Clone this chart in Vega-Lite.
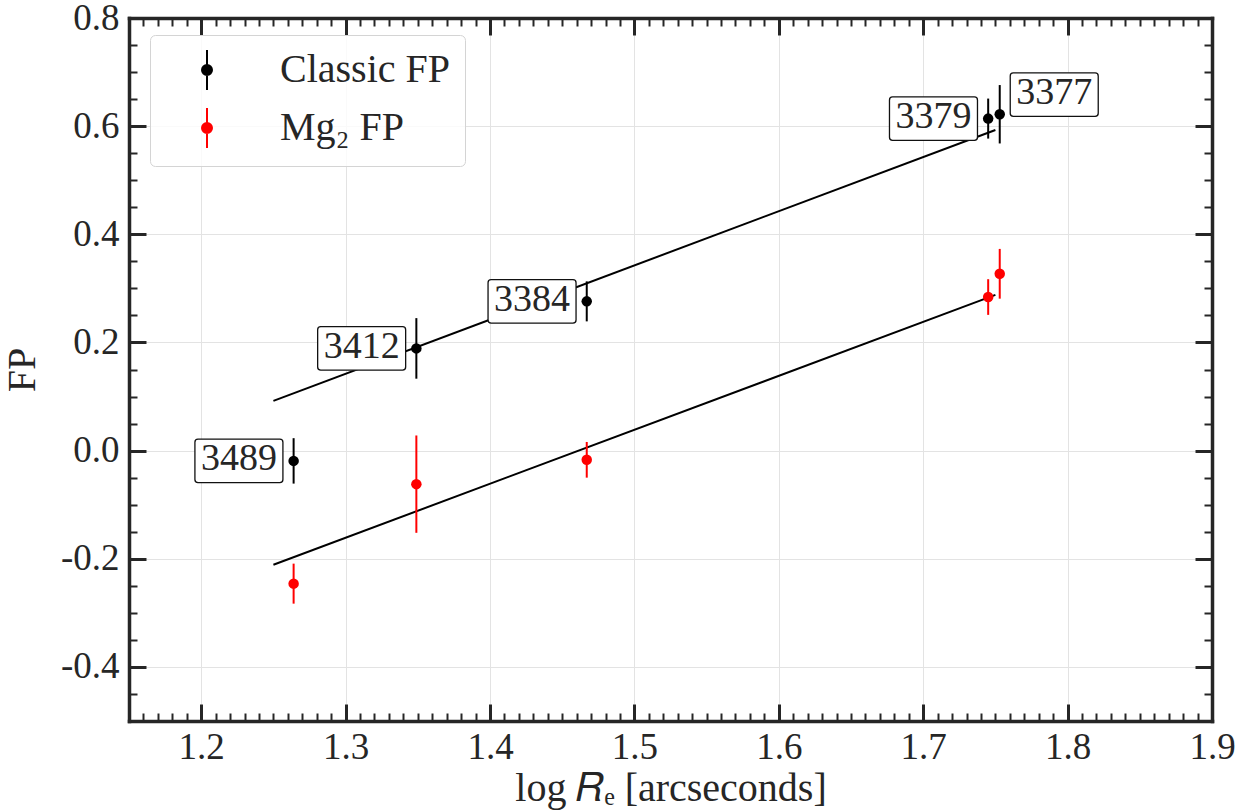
{
  "$schema": "https://vega.github.io/schema/vega-lite/v6.json",
  "autosize": {"type": "none"},
  "padding": {"left": 129, "top": 18, "right": 35, "bottom": 91},
  "width": 1083,
  "height": 703,
  "background": "white",
  "config": {
    "font": "Liberation Serif",
    "view": {"stroke": null},
    "axis": {"labelFont": "Liberation Serif", "titleFont": "Liberation Serif", "titleFontWeight": "normal", "labelColor": "#262626", "titleColor": "#262626", "tickColor": "#262626", "domainColor": "#262626", "domainWidth": 3.5, "domainCap": "square", "labelOverlap": false, "labelFlush": false}
  },
  "datasets": {
    "pts": [
      {"series": "Classic FP", "galaxy": "3489", "logRe": 1.264, "FP": -0.019, "err": 0.042},
      {"series": "Classic FP", "galaxy": "3412", "logRe": 1.349, "FP": 0.189, "err": 0.056},
      {"series": "Classic FP", "galaxy": "3384", "logRe": 1.467, "FP": 0.276, "err": 0.037},
      {"series": "Classic FP", "galaxy": "3379", "logRe": 1.745, "FP": 0.614, "err": 0.037},
      {"series": "Classic FP", "galaxy": "3377", "logRe": 1.753, "FP": 0.622, "err": 0.054},
      {"series": "Mg₂ FP", "galaxy": "3489", "logRe": 1.264, "FP": -0.246, "err": 0.037},
      {"series": "Mg₂ FP", "galaxy": "3412", "logRe": 1.349, "FP": -0.062, "err": 0.09},
      {"series": "Mg₂ FP", "galaxy": "3384", "logRe": 1.467, "FP": -0.017, "err": 0.033},
      {"series": "Mg₂ FP", "galaxy": "3379", "logRe": 1.745, "FP": 0.284, "err": 0.033},
      {"series": "Mg₂ FP", "galaxy": "3377", "logRe": 1.753, "FP": 0.327, "err": 0.046}
    ],
    "fits": [
      {"series": "Classic FP", "logRe": 1.25, "FP": 0.092},
      {"series": "Classic FP", "logRe": 1.75, "FP": 0.593},
      {"series": "Mg₂ FP", "logRe": 1.25, "FP": -0.211},
      {"series": "Mg₂ FP", "logRe": 1.75, "FP": 0.288}
    ]
  },
  "resolve": {"axis": {"x": "independent", "y": "independent"}},
  "layer": [
    {
      "data": {"name": "fits"},
      "mark": {"type": "line", "color": "black", "strokeWidth": 2},
      "encoding": {
        "x": {"field": "logRe", "type": "quantitative", "scale": {"domain": [1.15, 1.9], "nice": false, "zero": false},
          "axis": {"orient": "bottom", "values": [1.2, 1.3, 1.4, 1.5, 1.6, 1.7, 1.8, 1.9], "format": ".1f", "ticks": false, "domain": true, "labelFontSize": 37, "labelPadding": 8, "grid": true, "gridColor": "#e3e3e3", "gridWidth": 1, "title": "log 𝑅ₑ [arcseconds]", "titleFontSize": 40, "titlePadding": 3}},
        "y": {"field": "FP", "type": "quantitative", "scale": {"domain": [-0.5, 0.8], "nice": false, "zero": false},
          "axis": {"orient": "left", "values": [-0.4, -0.2, 0, 0.2, 0.4, 0.6, 0.8], "labelExpr": "datum.value < 0 ? '-' + format(-datum.value, '.1f') : format(datum.value, '.1f')", "ticks": false, "domain": true, "labelFontSize": 37, "labelPadding": 10, "grid": true, "gridColor": "#e3e3e3", "gridWidth": 1, "title": "FP", "titleFontSize": 40, "titlePadding": 18}},
        "detail": {"field": "series"}
      }
    },
    {
      "data": {"name": "pts"},
      "mark": {"type": "errorbar", "thickness": 2, "ticks": false},
      "encoding": {
        "x": {"field": "logRe", "type": "quantitative", "axis": null},
        "y": {"field": "FP", "type": "quantitative", "axis": null},
        "yError": {"field": "err"},
        "color": {"field": "series", "type": "nominal"}
      }
    },
    {
      "data": {"name": "pts"},
      "mark": {"type": "point", "filled": true, "size": 110, "opacity": 1},
      "encoding": {
        "x": {"field": "logRe", "type": "quantitative",
          "axis": {"orient": "bottom", "values": [1.2, 1.3, 1.4, 1.5, 1.6, 1.7, 1.8, 1.9], "labels": false, "domain": false, "grid": false, "ticks": true, "tickSize": -17, "tickWidth": 3, "title": null}},
        "y": {"field": "FP", "type": "quantitative",
          "axis": {"orient": "left", "values": [-0.4, -0.2, 0, 0.2, 0.4, 0.6, 0.8], "labels": false, "domain": false, "grid": false, "ticks": true, "tickSize": -17, "tickWidth": 3, "title": null}},
        "color": {"field": "series", "type": "nominal",
          "scale": {"domain": ["Classic FP", "Mg₂ FP"], "range": ["#000000", "#ff0000"]},
          "legend": {"orient": "none", "legendX": 21, "legendY": 17, "title": null,
            "symbolType": "M0,-1L0,1M0.25,0A0.25,0.25,0,1,1,-0.25,0A0.25,0.25,0,1,1,0.25,0Z",
            "symbolSize": 1600, "symbolStrokeWidth": 2, "symbolOffset": 22, "labelOffset": 52,
            "labelFont": "Liberation Serif", "labelFontSize": 40, "labelColor": "#262626", "labelLimit": 400,
            "padding": 14, "rowPadding": 10, "fillColor": "rgba(255,255,255,0.8)", "strokeColor": "#d4d4d4", "cornerRadius": 5,
            "encode": {"symbols": {"update": {"stroke": {"scale": "color", "field": "value"}, "fill": {"scale": "color", "field": "value"}, "strokeWidth": {"value": 2}, "opacity": {"value": 1}}}}}}
      }
    },
    {
      "data": {"name": "pts"},
      "transform": [{"filter": "datum.series == 'Classic FP' && datum.galaxy != '3377'"}],
      "mark": {"type": "point", "shape": "M-0.93,-0.494L0.93,-0.494Q1,-0.494,1,-0.424L1,0.424Q1,0.494,0.93,0.494L-0.93,0.494Q-1,0.494,-1,0.424L-1,-0.424Q-1,-0.494,-0.93,-0.494Z", "size": 7744, "filled": true, "fill": "white", "stroke": "#111111", "strokeWidth": 1.3, "opacity": 1, "xOffset": -54.7},
      "encoding": {
        "x": {"field": "logRe", "type": "quantitative",
          "axis": {"orient": "bottom", "values": [1.16, 1.17, 1.18, 1.19, 1.21, 1.22, 1.23, 1.24, 1.25, 1.26, 1.27, 1.28, 1.29, 1.31, 1.32, 1.33, 1.34, 1.35, 1.36, 1.37, 1.38, 1.39, 1.41, 1.42, 1.43, 1.44, 1.45, 1.46, 1.47, 1.48, 1.49, 1.51, 1.52, 1.53, 1.54, 1.55, 1.56, 1.57, 1.58, 1.59, 1.61, 1.62, 1.63, 1.64, 1.65, 1.66, 1.67, 1.68, 1.69, 1.71, 1.72, 1.73, 1.74, 1.75, 1.76, 1.77, 1.78, 1.79, 1.81, 1.82, 1.83, 1.84, 1.85, 1.86, 1.87, 1.88, 1.89], "labels": false, "domain": false, "grid": false, "ticks": true, "tickSize": -8, "tickWidth": 2, "title": null}},
        "y": {"field": "FP", "type": "quantitative",
          "axis": {"orient": "left", "values": [-0.45, -0.35, -0.3, -0.25, -0.15, -0.1, -0.05, 0.05, 0.1, 0.15, 0.25, 0.3, 0.35, 0.45, 0.5, 0.55, 0.65, 0.7, 0.75], "labels": false, "domain": false, "grid": false, "ticks": true, "tickSize": -8, "tickWidth": 2, "title": null}}
      }
    },
    {
      "data": {"name": "pts"},
      "transform": [{"filter": "datum.series == 'Classic FP' && datum.galaxy == '3377'"}],
      "mark": {"type": "point", "shape": "M-0.93,-0.494L0.93,-0.494Q1,-0.494,1,-0.424L1,0.424Q1,0.494,0.93,0.494L-0.93,0.494Q-1,0.494,-1,0.424L-1,-0.424Q-1,-0.494,-0.93,-0.494Z", "size": 7744, "filled": true, "fill": "white", "stroke": "#111111", "strokeWidth": 1.3, "opacity": 1, "xOffset": 54.5, "yOffset": -19.7},
      "encoding": {
        "x": {"field": "logRe", "type": "quantitative",
          "axis": {"orient": "top", "values": [1.2, 1.3, 1.4, 1.5, 1.6, 1.7, 1.8, 1.9], "labels": false, "domain": true, "grid": false, "ticks": true, "tickSize": -17, "tickWidth": 3, "title": null}},
        "y": {"field": "FP", "type": "quantitative",
          "axis": {"orient": "right", "values": [-0.4, -0.2, 0, 0.2, 0.4, 0.6, 0.8], "labels": false, "domain": true, "grid": false, "ticks": true, "tickSize": -17, "tickWidth": 3, "title": null}}
      }
    },
    {
      "data": {"name": "pts"},
      "transform": [{"filter": "datum.series == 'Classic FP' && datum.galaxy != '3377'"}],
      "mark": {"type": "text", "font": "Liberation Serif", "fontSize": 38, "color": "#262626", "align": "center", "baseline": "middle", "dx": -54.7, "dy": -1.5},
      "encoding": {
        "x": {"field": "logRe", "type": "quantitative",
          "axis": {"orient": "top", "values": [1.16, 1.17, 1.18, 1.19, 1.21, 1.22, 1.23, 1.24, 1.25, 1.26, 1.27, 1.28, 1.29, 1.31, 1.32, 1.33, 1.34, 1.35, 1.36, 1.37, 1.38, 1.39, 1.41, 1.42, 1.43, 1.44, 1.45, 1.46, 1.47, 1.48, 1.49, 1.51, 1.52, 1.53, 1.54, 1.55, 1.56, 1.57, 1.58, 1.59, 1.61, 1.62, 1.63, 1.64, 1.65, 1.66, 1.67, 1.68, 1.69, 1.71, 1.72, 1.73, 1.74, 1.75, 1.76, 1.77, 1.78, 1.79, 1.81, 1.82, 1.83, 1.84, 1.85, 1.86, 1.87, 1.88, 1.89], "labels": false, "domain": false, "grid": false, "ticks": true, "tickSize": -8, "tickWidth": 2, "title": null}},
        "y": {"field": "FP", "type": "quantitative",
          "axis": {"orient": "right", "values": [-0.45, -0.35, -0.3, -0.25, -0.15, -0.1, -0.05, 0.05, 0.1, 0.15, 0.25, 0.3, 0.35, 0.45, 0.5, 0.55, 0.65, 0.7, 0.75], "labels": false, "domain": false, "grid": false, "ticks": true, "tickSize": -8, "tickWidth": 2, "title": null}},
        "text": {"field": "galaxy", "type": "nominal"}
      }
    },
    {
      "data": {"name": "pts"},
      "transform": [{"filter": "datum.series == 'Classic FP' && datum.galaxy == '3377'"}],
      "mark": {"type": "text", "font": "Liberation Serif", "fontSize": 38, "color": "#262626", "align": "center", "baseline": "middle", "dx": 54.5, "dy": -21.2},
      "encoding": {
        "x": {"field": "logRe", "type": "quantitative", "axis": null},
        "y": {"field": "FP", "type": "quantitative", "axis": null},
        "text": {"field": "galaxy", "type": "nominal"}
      }
    }
  ]
}
